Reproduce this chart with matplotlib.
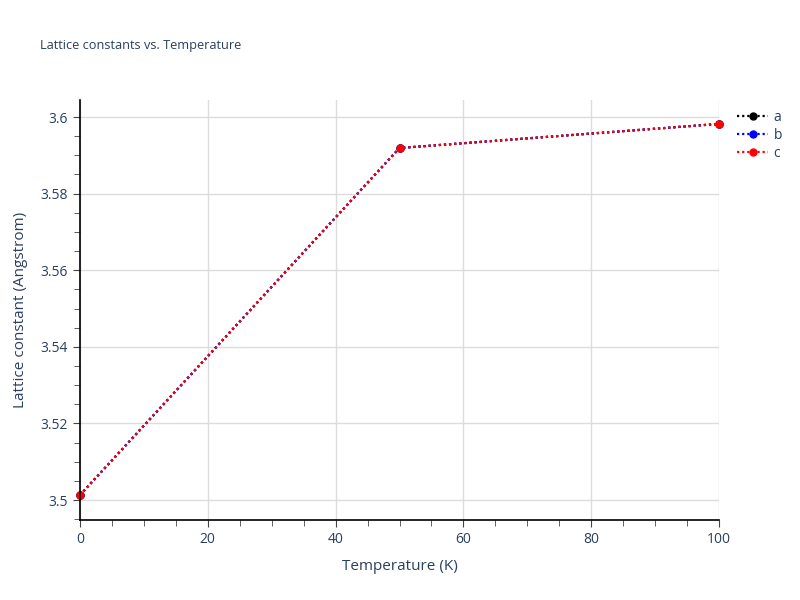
import matplotlib
matplotlib.use("Agg")
import matplotlib.pyplot as plt
from matplotlib.ticker import MultipleLocator, FuncFormatter

temps = [0, 50, 100]
a_vals = [3.5013, 3.5919, 3.5982]
b_vals = [3.5013, 3.5919, 3.5982]
c_vals = [3.5013, 3.5919, 3.5982]
series = [("a", a_vals, "black"), ("b", b_vals, "blue"), ("c", c_vals, "red")]

plt.rcParams["font.family"] = ["Open Sans", "DejaVu Sans"]
txt = "#2a3f5f"
fig = plt.figure(figsize=(8, 6), dpi=100)
ax = fig.add_axes([80/800, 1-520/600, 639/800, 420/600])

for name, vals, col in series:
    ax.plot(temps, vals, linestyle=(0, (1, 1.3)), linewidth=1.6, color=col,
            marker="o", markersize=5, label=name, clip_on=False)

ax.set_xlim(0, 100)
ax.set_ylim(3.49478, 3.60444)
ax.xaxis.set_major_locator(MultipleLocator(20))
ax.xaxis.set_minor_locator(MultipleLocator(5))
ax.yaxis.set_major_locator(MultipleLocator(0.02))
ax.yaxis.set_minor_locator(MultipleLocator(0.005))
ax.xaxis.set_major_formatter(FuncFormatter(lambda v, p: f"{v:g}"))
ax.yaxis.set_major_formatter(FuncFormatter(lambda v, p: f"{v:g}"))
ax.grid(True, which="major", color="#dcdcdc", linewidth=1)
ax.set_axisbelow(True)
for s in ["top", "right"]:
    ax.spines[s].set_visible(False)
for s in ["left", "bottom"]:
    ax.spines[s].set_color("black")
    ax.spines[s].set_linewidth(1.2)
ax.tick_params(which="both", direction="out", colors="#444444", labelcolor=txt, labelsize=10)
ax.tick_params(which="major", length=5)
ax.tick_params(which="minor", length=4)
ax.set_xlabel("Temperature (K)", fontsize=11, color=txt, labelpad=9)
ax.set_ylabel("Lattice constant (Angstrom)", fontsize=11, color=txt, labelpad=9)
fig.text(40/800, 1-46/600, "Lattice constants vs. Temperature", fontsize=9.2, color=txt, va="center")
leg = ax.legend(loc="upper left", bbox_to_anchor=(1.02, 0.99), frameon=False,
                fontsize=10, handlelength=2.2, handletextpad=0.4, labelspacing=0.22,
                borderaxespad=0)
for t in leg.get_texts():
    t.set_color(txt)
fig.savefig("out.png", dpi=100)
